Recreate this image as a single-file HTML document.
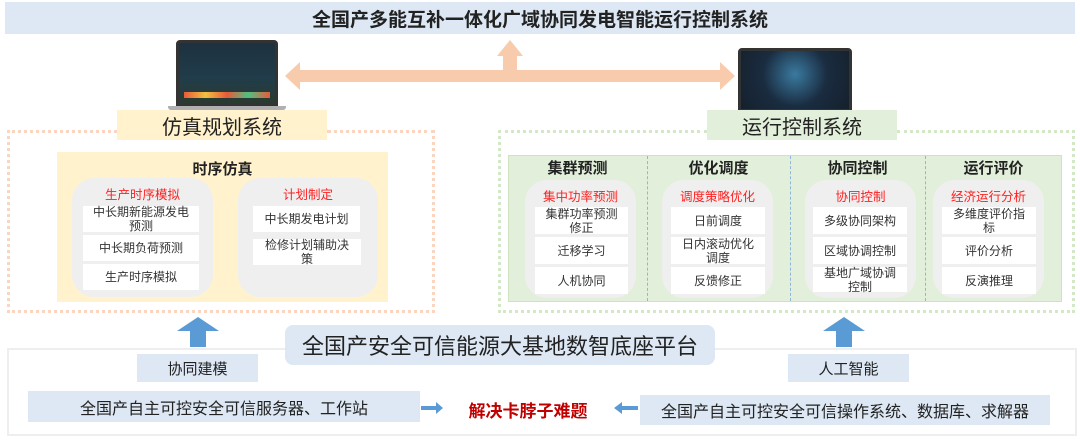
<!DOCTYPE html>
<html><head><meta charset="utf-8"><style>
*{margin:0;padding:0;box-sizing:border-box}
body{width:1080px;height:440px;background:#fff;position:relative;overflow:hidden;font-family:"Liberation Sans","Noto Sans CJK SC",sans-serif;color:#222}
.a{position:absolute}
.c{display:flex;align-items:center;justify-content:center;text-align:center}
.grey{position:absolute;background:#efefef;border-radius:22px}
.w{position:absolute;background:#fff;font-size:12px;line-height:14px;display:flex;align-items:center;justify-content:center;text-align:center;color:#333}
.red{position:absolute;color:#ff2020;font-size:12.5px;line-height:14px;text-align:center}
.h{position:absolute;font-weight:bold;font-size:15px;text-align:center}
.lap{position:absolute;background:#1b2733;border:3px solid #333;border-radius:4px 4px 0 0}
.lapb{position:absolute;height:4px;background:#b0b0b0;border-radius:0 0 3px 3px}
</style></head><body>
<div class="a c" style="left:5px;top:2px;width:1070px;height:32px;background:#dde8f4;font-size:19px;font-weight:bold;">全国产多能互补一体化广域协同发电智能运行控制系统</div>

<div class="lap" style="left:176px;top:40px;width:102px;height:66px;background:linear-gradient(180deg,#1d3140,#213c4a 60%,#2a3a30)"></div>
<div class="a" style="left:184px;top:92px;width:86px;height:6px;background:linear-gradient(90deg,#e85a3a,#f0c040,#e85a3a,#50c080,#e85a3a)"></div>
<div class="lapb" style="left:168px;top:106px;width:118px"></div>
<div class="lap" style="left:738px;top:48px;width:114px;height:64px;background:radial-gradient(circle at 50% 40%,#3a7aa0,#1a2c40 50%,#15202c)"></div>
<div class="lapb" style="left:730px;top:112px;width:130px"></div>

<svg class="a" style="left:0;top:0" width="1080" height="140">
<polygon fill="#f8cbad" points="285,76 300,62 300,70 503,70 503,56 497,56 510,40 523,56 517,56 517,70 720,70 720,62 735,76 720,90 720,82 300,82 300,90"/>
</svg>

<div class="a c" style="left:117px;top:110px;width:210px;height:30px;background:#fff2cc;font-size:20px">仿真规划系统</div>
<div class="a c" style="left:707px;top:110px;width:190px;height:30px;background:#e2efda;font-size:20px">运行控制系统</div>

<div class="a" style="left:7px;top:130px;width:428px;height:183px;border:3px dotted #fbd5c0;border-top:none"></div>
<div class="a" style="left:7px;top:130px;width:110px;height:3px;border-top:3px dotted #fbd5c0"></div>
<div class="a" style="left:327px;top:130px;width:108px;height:3px;border-top:3px dotted #fbd5c0"></div>
<div class="a" style="left:498px;top:130px;width:577px;height:183px;border:3px dotted #d3e8c6;border-top:none"></div>
<div class="a" style="left:498px;top:130px;width:209px;border-top:3px dotted #d3e8c6"></div>
<div class="a" style="left:897px;top:130px;width:178px;border-top:3px dotted #d3e8c6"></div>

<div class="a" style="left:57px;top:152px;width:331px;height:150px;background:#fff2cc"></div>
<div class="h" style="left:57px;top:158px;width:331px">时序仿真</div>
<div class="grey" style="left:72px;top:178px;width:141px;height:119px"></div>
<div class="grey" style="left:238px;top:178px;width:140px;height:119px"></div>
<div class="red" style="left:72px;top:188px;width:141px">生产时序模拟</div>
<div class="red" style="left:238px;top:188px;width:140px">计划制定</div>
<div class="w" style="left:83px;top:206px;width:116px;height:26px">中长期新能源发电<br>预测</div>
<div class="w" style="left:83px;top:235px;width:116px;height:26px">中长期负荷预测</div>
<div class="w" style="left:83px;top:264px;width:116px;height:26px">生产时序模拟</div>
<div class="w" style="left:253px;top:206px;width:107px;height:26px">中长期发电计划</div>
<div class="w" style="left:253px;top:239px;width:108px;height:26px">检修计划辅助决<br>策</div>

<div class="a" style="left:508px;top:155px;width:554px;height:147px;background:#e2efda;border:1px solid #cfe3c2"></div>
<div class="a" style="left:647px;top:156px;height:145px;border-left:1px dashed #8fb6d8"></div>
<div class="a" style="left:790px;top:156px;height:145px;border-left:1px dashed #8fb6d8"></div>
<div class="a" style="left:925px;top:156px;height:145px;border-left:1px dashed #8fb6d8"></div>
<div class="h" style="left:508px;top:157px;width:139px">集群预测</div>
<div class="h" style="left:647px;top:157px;width:143px">优化调度</div>
<div class="h" style="left:790px;top:157px;width:135px">协同控制</div>
<div class="h" style="left:925px;top:157px;width:137px">运行评价</div>
<div class="grey" style="left:525px;top:180px;width:111px;height:118px"></div>
<div class="grey" style="left:662px;top:180px;width:111px;height:118px"></div>
<div class="grey" style="left:805px;top:180px;width:111px;height:118px"></div>
<div class="grey" style="left:933px;top:180px;width:111px;height:118px"></div>
<div class="red" style="left:525px;top:190px;width:111px">集中功率预测</div>
<div class="red" style="left:662px;top:190px;width:111px">调度策略优化</div>
<div class="red" style="left:805px;top:190px;width:111px">协同控制</div>
<div class="red" style="left:933px;top:190px;width:111px">经济运行分析</div>
<div class="w" style="left:535px;top:207px;width:93px;height:27px">集群功率预测<br>修正</div>
<div class="w" style="left:535px;top:237px;width:93px;height:27px">迁移学习</div>
<div class="w" style="left:535px;top:267px;width:93px;height:27px">人机协同</div>
<div class="w" style="left:671px;top:207px;width:94px;height:27px">日前调度</div>
<div class="w" style="left:671px;top:237px;width:94px;height:27px">日内滚动优化<br>调度</div>
<div class="w" style="left:671px;top:267px;width:94px;height:27px">反馈修正</div>
<div class="w" style="left:813px;top:207px;width:94px;height:27px">多级协同架构</div>
<div class="w" style="left:813px;top:237px;width:94px;height:27px">区域协调控制</div>
<div class="w" style="left:813px;top:267px;width:94px;height:25px">基地广域协调<br>控制</div>
<div class="w" style="left:942px;top:207px;width:94px;height:27px">多维度评价指<br>标</div>
<div class="w" style="left:942px;top:237px;width:94px;height:27px">评价分析</div>
<div class="w" style="left:942px;top:267px;width:94px;height:27px">反演推理</div>

<div class="a" style="left:7px;top:348px;width:1070px;height:88px;border:2px solid #eeeeee;background:#fff"></div>
<svg class="a" style="left:0;top:300px" width="1080" height="60">
<polygon fill="#5b9bd5" points="177,31 198,17 219,31 206,31 206,47 190,47 190,31"/>
<polygon fill="#5b9bd5" points="823,31 844,17 865,31 852,31 852,47 836,47 836,31"/>
</svg>
<div class="a c" style="left:285px;top:325px;width:430px;height:40px;background:#dde8f4;border-radius:8px;font-size:22px">全国产安全可信能源大基地数智底座平台</div>
<div class="a c" style="left:137px;top:354px;width:121px;height:28px;background:#dde8f4;font-size:15px">协同建模</div>
<div class="a c" style="left:788px;top:354px;width:121px;height:28px;background:#dde8f4;font-size:15px">人工智能</div>
<div class="a c" style="left:28px;top:391px;width:392px;height:31px;background:#dde8f4;font-size:16px">全国产自主可控安全可信服务器、工作站</div>
<div class="a c" style="left:640px;top:395px;width:410px;height:30px;background:#dde8f4;font-size:16px">全国产自主可控安全可信操作系统、数据库、求解器</div>
<svg class="a" style="left:0;top:395px" width="1080" height="30">
<polygon fill="#5b9bd5" points="421,11 436,11 436,7 443,13 436,19 436,15 421,15"/>
<polygon fill="#5b9bd5" points="638,11 622,11 622,7 614,13 622,19 622,15 638,15"/>
</svg>
<div class="a c" style="left:447px;top:395px;width:162px;height:28px;color:#c00000;font-weight:bold;font-size:17px">解决卡脖子难题</div>
</body></html>
